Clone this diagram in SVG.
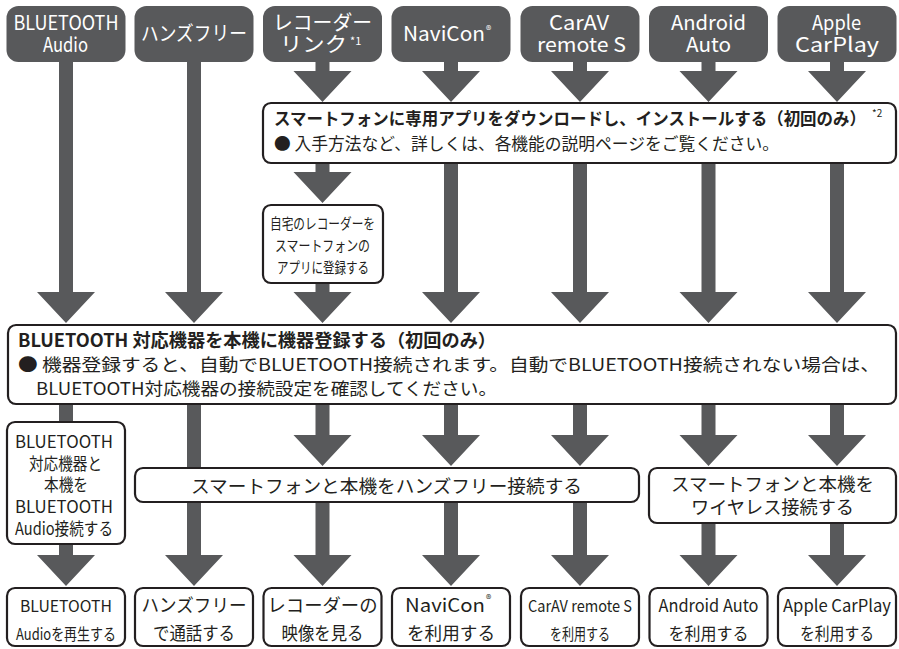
<svg xmlns="http://www.w3.org/2000/svg" width="899" height="649" viewBox="0 0 899 649">
<style>
.hdr{fill:#58595b}
.box{fill:#fff;stroke:#231f20;stroke-width:2.2}
.arr{fill:#58595b}
text{font-family:"Noto Sans CJK JP","Noto Sans",sans-serif;fill:#231f20}
.w{fill:#fff;font-size:20px}
.sup{font-size:11px}
.b{font-weight:bold}
</style>
<rect width="899" height="649" fill="#fff"/>
<g id="connectors" class="arr">
<path d="M59,60 H73 V292 H95 L66,323 L37,292 H59 Z"/>
<path d="M187,60 H201 V292 H223 L194,323 L165,292 H187 Z"/>
<path d="M315.5,60 H329.5 V71 H351.5 L322.5,102 L293.5,71 H315.5 Z"/>
<path d="M315.5,161 H329.5 V172 H351.5 L322.5,203 L293.5,172 H315.5 Z"/>
<path d="M315.5,281 H329.5 V292 H351.5 L322.5,323 L293.5,292 H315.5 Z"/>
<path d="M444,60 H458 V71 H480 L451,102 L422,71 H444 Z"/>
<path d="M444,161 H458 V292 H480 L451,323 L422,292 H444 Z"/>
<path d="M573,60 H587 V71 H609 L580,102 L551,71 H573 Z"/>
<path d="M573,161 H587 V292 H609 L580,323 L551,292 H573 Z"/>
<path d="M701.5,60 H715.5 V71 H737.5 L708.5,102 L679.5,71 H701.5 Z"/>
<path d="M701.5,161 H715.5 V292 H737.5 L708.5,323 L679.5,292 H701.5 Z"/>
<path d="M830,60 H844 V71 H866 L837,102 L808,71 H830 Z"/>
<path d="M830,161 H844 V292 H866 L837,323 L808,292 H830 Z"/>
<rect x="59" y="402" width="14" height="22"/>
<path d="M59,542 H73 V555 H95 L66,586 L37,555 H59 Z"/>
<path d="M187,402 H201 V555 H223 L194,586 L165,555 H187 Z"/>
<path d="M315.5,402 H329.5 V435 H351.5 L322.5,466 L293.5,435 H315.5 Z"/>
<path d="M315.5,500 H329.5 V555 H351.5 L322.5,586 L293.5,555 H315.5 Z"/>
<path d="M444,402 H458 V435 H480 L451,466 L422,435 H444 Z"/>
<path d="M444,500 H458 V555 H480 L451,586 L422,555 H444 Z"/>
<path d="M573,402 H587 V435 H609 L580,466 L551,435 H573 Z"/>
<path d="M573,500 H587 V555 H609 L580,586 L551,555 H573 Z"/>
<path d="M701.5,402 H715.5 V435 H737.5 L708.5,466 L679.5,435 H701.5 Z"/>
<path d="M701.5,521 H715.5 V555 H737.5 L708.5,586 L679.5,555 H701.5 Z"/>
<path d="M830,402 H844 V435 H866 L837,466 L808,435 H830 Z"/>
<path d="M830,521 H844 V555 H866 L837,586 L808,555 H830 Z"/>
</g>
<g id="h-bt-audio">
<rect class="hdr" x="6.5" y="6" width="119" height="56" rx="12"/>
<text class="w" x="13.5" y="30" textLength="105" lengthAdjust="spacingAndGlyphs">BLUETOOTH</text>
<text class="w" x="43" y="52" textLength="45" lengthAdjust="spacingAndGlyphs">Audio</text>
</g>
<g id="h-handsfree">
<rect class="hdr" x="134.5" y="6" width="119" height="56" rx="12"/>
<text class="w" x="141" y="41" textLength="106" lengthAdjust="spacingAndGlyphs">ハンズフリー</text>
</g>
<g id="h-recorder">
<rect class="hdr" x="263" y="6" width="119" height="56" rx="12"/>
<text class="w" x="273" y="30" textLength="99" lengthAdjust="spacingAndGlyphs">レコーダー</text>
<text class="w" x="280" y="52" textLength="67" lengthAdjust="spacingAndGlyphs">リンク</text>
<text class="w sup" x="350" y="45">*1</text>
</g>
<g id="h-navicon">
<rect class="hdr" x="391.5" y="6" width="119" height="56" rx="12"/>
<text class="w" x="403" y="41" textLength="82" lengthAdjust="spacingAndGlyphs">NaviCon</text>
<text class="w sup" x="486" y="34">®</text>
</g>
<g id="h-carav">
<rect class="hdr" x="520.5" y="6" width="119" height="56" rx="12"/>
<text class="w" x="549" y="30" textLength="60" lengthAdjust="spacingAndGlyphs">CarAV</text>
<text class="w" x="537" y="52" textLength="89" lengthAdjust="spacingAndGlyphs">remote S</text>
</g>
<g id="h-android">
<rect class="hdr" x="649" y="6" width="119" height="56" rx="12"/>
<text class="w" x="671" y="30" textLength="75" lengthAdjust="spacingAndGlyphs">Android</text>
<text class="w" x="686" y="52" textLength="45" lengthAdjust="spacingAndGlyphs">Auto</text>
</g>
<g id="h-carplay">
<rect class="hdr" x="777.5" y="6" width="119" height="56" rx="12"/>
<text class="w" x="812" y="30" textLength="49" lengthAdjust="spacingAndGlyphs">Apple</text>
<text class="w" x="795" y="52" textLength="84" lengthAdjust="spacingAndGlyphs">CarPlay</text>
</g>
<g id="app-install">
<rect class="box" x="263" y="103" width="633" height="60" rx="8"/>
<text class="b" x="274" y="125" font-size="17" textLength="592" lengthAdjust="spacingAndGlyphs">スマートフォンに専用アプリをダウンロードし、インストールする（初回のみ）</text>
<text x="872" y="117" font-size="10">*2</text>
<text x="274" y="150" font-size="16.5" textLength="505" lengthAdjust="spacingAndGlyphs">● 入手方法など、詳しくは、各機能の説明ページをご覧ください。</text>
</g>
<g id="register-recorder">
<rect class="box" x="263" y="205" width="120" height="78" rx="8"/>
<text x="270" y="229" font-size="15" textLength="105" lengthAdjust="spacingAndGlyphs">自宅のレコーダーを</text>
<text x="275" y="251" font-size="15" textLength="95" lengthAdjust="spacingAndGlyphs">スマートフォンの</text>
<text x="277" y="273" font-size="15" textLength="92" lengthAdjust="spacingAndGlyphs">アプリに登録する</text>
</g>
<g id="bt-register">
<rect class="box" x="8" y="325" width="888" height="79" rx="8"/>
<text class="b" x="18" y="347" font-size="18" textLength="478" lengthAdjust="spacingAndGlyphs">BLUETOOTH 対応機器を本機に機器登録する（初回のみ）</text>
<text x="18" y="371" font-size="17.5" textLength="862" lengthAdjust="spacingAndGlyphs">● 機器登録すると、自動でBLUETOOTH接続されます。自動でBLUETOOTH接続されない場合は、</text>
<text x="36" y="395" font-size="17.5" textLength="461" lengthAdjust="spacingAndGlyphs">BLUETOOTH対応機器の接続設定を確認してください。</text>
</g>
<g id="bt-audio-connect">
<rect class="box" x="7" y="422" width="118" height="122" rx="8"/>
<text x="15" y="448" font-size="17" textLength="98" lengthAdjust="spacingAndGlyphs">BLUETOOTH</text>
<text x="29" y="470" font-size="17" textLength="73" lengthAdjust="spacingAndGlyphs">対応機器と</text>
<text x="44" y="491" font-size="17" textLength="44" lengthAdjust="spacingAndGlyphs">本機を</text>
<text x="15" y="513" font-size="17" textLength="98" lengthAdjust="spacingAndGlyphs">BLUETOOTH</text>
<text x="15" y="535" font-size="17" textLength="98" lengthAdjust="spacingAndGlyphs">Audio接続する</text>
</g>
<g id="handsfree-connect">
<rect class="box" x="135" y="468" width="504" height="34" rx="8"/>
<text x="191" y="493" font-size="18.5" textLength="391" lengthAdjust="spacingAndGlyphs">スマートフォンと本機をハンズフリー接続する</text>
</g>
<g id="wireless-connect">
<rect class="box" x="649" y="468" width="247" height="55" rx="8"/>
<text x="671" y="491" font-size="18.5" textLength="203" lengthAdjust="spacingAndGlyphs">スマートフォンと本機を</text>
<text x="691" y="514" font-size="18.5" textLength="163" lengthAdjust="spacingAndGlyphs">ワイヤレス接続する</text>
</g>
<g id="use-bt-audio">
<rect class="box" x="7" y="588" width="118" height="58" rx="8"/>
<text x="20" y="612" font-size="16" textLength="92" lengthAdjust="spacingAndGlyphs">BLUETOOTH</text>
<text x="16" y="640" font-size="16" textLength="100" lengthAdjust="spacingAndGlyphs">Audioを再生する</text>
</g>
<g id="use-handsfree">
<rect class="box" x="135" y="588" width="118" height="58" rx="8"/>
<text x="141.5" y="612" font-size="18.5" textLength="105" lengthAdjust="spacingAndGlyphs">ハンズフリー</text>
<text x="153" y="640" font-size="18.5" textLength="82" lengthAdjust="spacingAndGlyphs">で通話する</text>
</g>
<g id="use-recorder">
<rect class="box" x="263.5" y="588" width="118" height="58" rx="8"/>
<text x="267.5" y="612" font-size="18.5" textLength="110" lengthAdjust="spacingAndGlyphs">レコーダーの</text>
<text x="281.5" y="640" font-size="18.5" textLength="82" lengthAdjust="spacingAndGlyphs">映像を見る</text>
</g>
<g id="use-navicon">
<rect class="box" x="392" y="588" width="118" height="58" rx="8"/>
<text x="405" y="612" font-size="18.5" textLength="80" lengthAdjust="spacingAndGlyphs">NaviCon</text>
<text x="486" y="603" font-size="11">®</text>
<text x="407" y="640" font-size="18.5" textLength="88" lengthAdjust="spacingAndGlyphs">を利用する</text>
</g>
<g id="use-carav">
<rect class="box" x="521" y="588" width="118" height="58" rx="8"/>
<text x="528" y="612" font-size="16" textLength="104" lengthAdjust="spacingAndGlyphs">CarAV remote S</text>
<text x="550" y="640" font-size="16" textLength="60" lengthAdjust="spacingAndGlyphs">を利用する</text>
</g>
<g id="use-android">
<rect class="box" x="649.5" y="588" width="118" height="58" rx="8"/>
<text x="658.5" y="612" font-size="17" textLength="100" lengthAdjust="spacingAndGlyphs">Android Auto</text>
<text x="668.5" y="640" font-size="17" textLength="80" lengthAdjust="spacingAndGlyphs">を利用する</text>
</g>
<g id="use-carplay">
<rect class="box" x="778" y="588" width="118" height="58" rx="8"/>
<text x="783" y="612" font-size="17" textLength="108" lengthAdjust="spacingAndGlyphs">Apple CarPlay</text>
<text x="800" y="640" font-size="17" textLength="74" lengthAdjust="spacingAndGlyphs">を利用する</text>
</g>
</svg>
